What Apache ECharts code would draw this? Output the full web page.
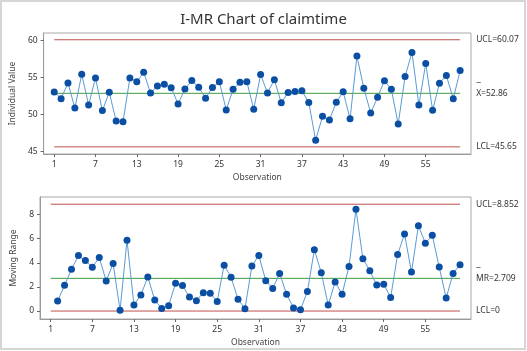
<!DOCTYPE html>
<html>
<head>
<meta charset="utf-8">
<script src="https://cdn.jsdelivr.net/npm/echarts@6/dist/echarts.min.js"></script>
<style>
  html, body { margin: 0; padding: 0; background: #fff; }
  #chart { width: 527px; height: 351px; }
</style>
</head>
<body>
<div id="chart"></div>
<script>
// individual values, obs 1..60
var individuals = [53.04, 52.14, 54.25, 50.88, 55.42, 51.29, 54.93, 50.53, 53.0, 49.13,
  49.04, 54.93, 54.43, 55.69, 52.9, 53.85, 54.07, 53.62, 51.42, 53.45,
  54.57, 53.68, 52.2, 53.65, 54.43, 50.62, 53.40, 54.34, 54.43, 50.72,
  55.38, 52.91, 54.7, 51.58, 52.96, 53.12, 53.2, 51.62, 46.55, 49.76,
  49.27, 51.65, 53.08, 49.42, 57.88, 53.55, 50.22, 52.32, 54.55, 53.40,
  48.73, 55.13, 58.36, 51.29, 56.87, 50.58, 54.23, 55.25, 52.13, 55.92];
// moving ranges, obs 2..60
var movingRanges = [0.83, 2.13, 3.46, 4.60, 4.18, 3.63, 4.43, 2.49, 3.93, 0.06,
  5.87, 0.50, 1.33, 2.83, 0.91, 0.22, 0.44, 2.30, 2.11, 1.16,
  0.86, 1.52, 1.47, 0.80, 3.80, 2.80, 0.97, 0.19, 3.74, 4.60,
  2.52, 1.86, 3.12, 1.40, 0.25, 0.11, 1.62, 5.07, 3.18, 0.49,
  2.41, 1.40, 3.70, 8.44, 4.33, 3.34, 2.16, 2.22, 1.12, 4.68,
  6.38, 3.23, 7.07, 5.62, 6.27, 3.64, 1.07, 3.12, 3.84];
var obsTicks = [1, 7, 13, 19, 25, 31, 37, 43, 49, 55];
var iTicks = [45, 50, 55, 60];
var mrTicks = [0, 2, 4, 6, 8];
var iLimits = { ucl: 60.07, center: 52.86, lcl: 45.65 };
var mrLimits = { ucl: 8.852, center: 2.709, lcl: 0 };
var firstObs = 1, lastObs = 60;

var RED = '#c0504d', GREEN = '#3f9b3f', LINE = '#5b9bd5', DOT = '#0a4fa3';
var FONT = 'Noto Sans';

// horizontal control line as its own series, label at its right end
function limitSeries(gi, value, color, text, withBar) {
  var label = { show: true, distance: 16, color: '#333', fontSize: 8.5, fontFamily: FONT };
  if (withBar) {
    // bar on top, value in the middle line, empty line below to keep it centered
    label.formatter = '{bar|\u2012}\n{t|' + text + '}\n{t| }';
    label.rich = {
      bar: { fontSize: 8.5, lineHeight: 10, color: '#333', fontFamily: FONT },
      t: { fontSize: 8.5, lineHeight: 10, color: '#333', fontFamily: FONT }
    };
  } else {
    label.formatter = text;
  }
  return {
    type: 'line', xAxisIndex: gi, yAxisIndex: gi, silent: true,
    data: [[firstObs, value], [lastObs, value]],
    symbol: 'none', z: 2,
    lineStyle: { color: color, width: 1 },
    endLabel: label
  };
}

function xAxis(gridIndex) {
  return {
    gridIndex: gridIndex, type: 'value', min: -0.54, max: 61.58,
    name: 'Observation', nameLocation: 'middle', nameGap: 19,
    nameTextStyle: { fontSize: 8.5, color: '#444', fontFamily: FONT },
    axisLine: { show: true, onZero: false, lineStyle: { color: '#999' } },
    axisTick: { show: true, length: 3, customValues: obsTicks, lineStyle: { color: '#666' } },
    axisLabel: { customValues: obsTicks, fontSize: 8.5, color: '#333', margin: 6, fontFamily: FONT },
    splitLine: { show: false }
  };
}
function yAxis(gridIndex, min, max, ticks, name) {
  return {
    gridIndex: gridIndex, type: 'value', min: min, max: max,
    name: name, nameLocation: 'middle', nameGap: 18,
    nameTextStyle: { fontSize: 8.5, color: '#444', fontFamily: FONT },
    axisLine: { show: true, onZero: false, lineStyle: { color: '#999' } },
    axisTick: { show: true, length: 3, customValues: ticks, lineStyle: { color: '#666' } },
    axisLabel: { customValues: ticks, fontSize: 8.5, color: '#333', margin: 6, fontFamily: FONT },
    splitLine: { show: false }
  };
}

var chart = echarts.init(document.getElementById('chart'));
chart.setOption({
  backgroundColor: '#fff',
  animation: false,
  title: {
    text: 'I-MR Chart of claimtime', left: 'center', top: 7,
    textStyle: { fontSize: 15, fontWeight: 'normal', color: '#333', fontFamily: FONT }
  },
  graphic: [{
    type: 'rect', shape: { x: 1, y: 1, width: 524, height: 348 },
    style: { fill: 'none', stroke: '#d6d6d6', lineWidth: 2 }, silent: true
  }],
  grid: [
    { left: 40, top: 33, width: 431, height: 121, show: true, borderColor: '#a8a8a8', borderWidth: 1 },
    { left: 40, top: 197, width: 431, height: 122, show: true, borderColor: '#a8a8a8', borderWidth: 1 }
  ],
  xAxis: [xAxis(0), xAxis(1)],
  yAxis: [
    yAxis(0, 44.69, 60.98, iTicks, 'Individual Value'),
    yAxis(1, -0.66, 9.45, mrTicks, 'Moving Range')
  ],
  series: [
    limitSeries(0, iLimits.ucl, RED, 'UCL=' + iLimits.ucl.toFixed(2), false),
    limitSeries(0, iLimits.center, GREEN, 'X=' + iLimits.center.toFixed(2), true),
    limitSeries(0, iLimits.lcl, RED, 'LCL=' + iLimits.lcl.toFixed(2), false),
    {
      type: 'line', xAxisIndex: 0, yAxisIndex: 0,
      data: individuals.map(function (v, i) { return [i + 1, v]; }),
      symbol: 'circle', symbolSize: 7,
      itemStyle: { color: DOT },
      lineStyle: { color: LINE, width: 1 },
      z: 5
    },
    limitSeries(1, mrLimits.ucl, RED, 'UCL=' + mrLimits.ucl.toFixed(3), false),
    limitSeries(1, mrLimits.center, GREEN, 'MR=' + mrLimits.center.toFixed(3), true),
    limitSeries(1, mrLimits.lcl, RED, 'LCL=' + mrLimits.lcl, false),
    {
      type: 'line', xAxisIndex: 1, yAxisIndex: 1,
      data: movingRanges.map(function (v, i) { return [i + 2, v]; }),
      symbol: 'circle', symbolSize: 7,
      itemStyle: { color: DOT },
      lineStyle: { color: LINE, width: 1 },
      z: 5
    }
  ]
});
</script>
</body>
</html>
